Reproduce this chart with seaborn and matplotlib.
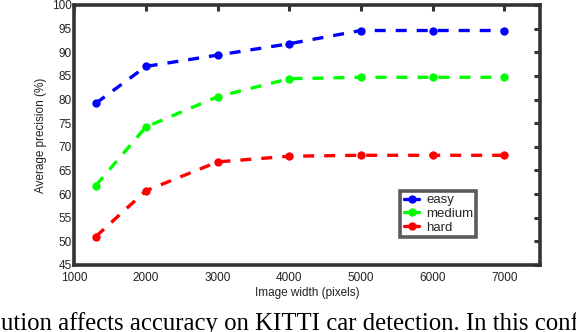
import matplotlib
matplotlib.use("Agg")
import matplotlib.pyplot as plt
import pandas as pd
import seaborn as sns

# values
widths = [1300, 2000, 3000, 4000, 5000, 6000, 7000]
easy = [79.2, 87.0, 89.4, 91.8, 94.6, 94.6, 94.6]
medium = [61.8, 74.2, 80.6, 84.4, 84.7, 84.7, 84.7]
hard = [51.0, 60.7, 66.8, 68.0, 68.2, 68.2, 68.2]
levels = ["easy", "medium", "hard"]
colors = ["#0000ff", "#00ff00", "#ff0000"]
x_ticks = [1000, 2000, 3000, 4000, 5000, 6000, 7000]
y_ticks = [45, 50, 55, 60, 65, 70, 75, 80, 85, 90, 95, 100]

df = pd.DataFrame({
    "width": widths * 3,
    "ap": easy + medium + hard,
    "level": sum([[lv] * len(widths) for lv in levels], []),
})

sns.set_style("white")
plt.rcParams["font.family"] = ["Liberation Sans", "DejaVu Sans"]

fig = plt.figure(figsize=(5.76, 3.32), dpi=100)
ax = fig.add_axes([0.129, 0.202, 0.8085, 0.783])

sns.lineplot(data=df, x="width", y="ap", hue="level", palette=colors,
             hue_order=levels, marker="o", markersize=6, markeredgewidth=0,
             linewidth=2.4, dashes=False, ax=ax)
for line in ax.get_lines():
    line.set_linestyle((0, (3.3, 3.0)))

ax.set_xlim(1000, 7500)
ax.set_ylim(45, 100)
ax.set_xticks(x_ticks)
ax.set_yticks(y_ticks)
ax.set_xlabel("Image width (pixels)", fontsize=8.5, color="#222222", labelpad=2)
ax.set_ylabel("Average precision (%)", fontsize=8.5, color="#222222", labelpad=3)
ax.tick_params(direction="in", length=4, width=2.2, color="#333333",
               labelsize=8.5, labelcolor="#222222", top=True, right=True, pad=2)
ax.tick_params(axis="x", pad=5)
for sp in ax.spines.values():
    sp.set_linewidth(2.6)
    sp.set_color("#333333")
    sp.set_visible(True)

leg = ax.legend(loc="lower left", bbox_to_anchor=(0.70, 0.108), fontsize=9.5,
                frameon=True, fancybox=False, handlelength=1.2, borderaxespad=0,
                handletextpad=0.5, borderpad=0.25, labelspacing=0.1)
leg.get_frame().set_edgecolor("#333333")
leg.get_frame().set_linewidth(2.6)
for h in leg.get_lines():
    h.set_linestyle("-")

fig.text(0.002, 0.006, "ution affects accuracy on KITTI car detection. In this configuration",
         fontsize=17.8, family=["Liberation Serif", "DejaVu Serif"], va="baseline",
         ha="left", color="black")

fig.savefig("out.png", dpi=100)
